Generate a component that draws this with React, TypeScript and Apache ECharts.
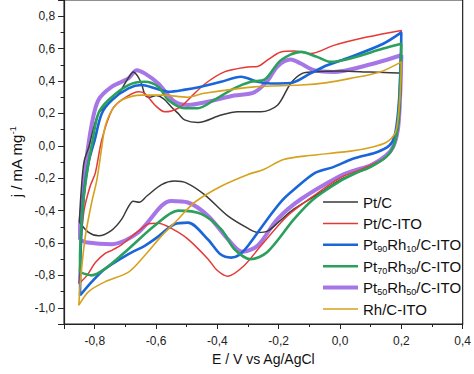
import React, { useEffect, useRef } from "react";
import * as echarts from "echarts";

const seriesNames = ["Pt/C", "Pt/C-ITO", "Pt90Rh10/C-ITO", "Pt70Rh30/C-ITO", "Pt50Rh50/C-ITO", "Rh/C-ITO"];
const legendLabels: Record<string, string> = {
  "Pt/C": "{n|Pt/C}",
  "Pt/C-ITO": "{n|Pt/C-ITO}",
  "Pt90Rh10/C-ITO": "{n|Pt}{s|90}{n|Rh}{s|10}{n|/C-ITO}",
  "Pt70Rh30/C-ITO": "{n|Pt}{s|70}{n|Rh}{s|30}{n|/C-ITO}",
  "Pt50Rh50/C-ITO": "{n|Pt}{s|50}{n|Rh}{s|50}{n|/C-ITO}",
  "Rh/C-ITO": "{n|Rh/C-ITO}",
};

const ptC: number[][] = [
  [-0.85, -0.47], [-0.845, -0.3], [-0.835, -0.1], [-0.818, 0.0], [-0.805, 0.1], [-0.788, 0.2],
  [-0.767, 0.24], [-0.723, 0.32], [-0.69, 0.42], [-0.674, 0.456], [-0.66, 0.43], [-0.647, 0.38], [-0.635, 0.31],
  [-0.62, 0.3], [-0.6, 0.31], [-0.575, 0.29], [-0.55, 0.24], [-0.528, 0.2], [-0.507, 0.16], [-0.463, 0.144],
  [-0.388, 0.19], [-0.334, 0.21], [-0.258, 0.21], [-0.204, 0.25], [-0.161, 0.385], [-0.123, 0.447],
  [-0.086, 0.456], [0.0, 0.462], [0.1, 0.455], [0.19, 0.45], [0.2, 0.45],
  [0.197, 0.3], [0.19, 0.12], [0.175, 0.0], [0.15, -0.07], [0.1, -0.13], [0.05, -0.17], [0.0, -0.21],
  [-0.063, -0.288], [-0.15, -0.39], [-0.2, -0.47], [-0.235, -0.525], [-0.268, -0.535], [-0.3, -0.51],
  [-0.366, -0.433], [-0.443, -0.3], [-0.5, -0.23], [-0.54, -0.218], [-0.582, -0.24], [-0.63, -0.31],
  [-0.655, -0.348], [-0.675, -0.342], [-0.69, -0.375], [-0.712, -0.453], [-0.744, -0.52], [-0.787, -0.556],
  [-0.82, -0.535], [-0.85, -0.47],
];

const ptCIto: number[][] = [
  [-0.852, -0.852], [-0.845, -0.6], [-0.835, -0.4], [-0.815, -0.25], [-0.798, -0.167], [-0.777, 0.037],
  [-0.744, 0.22], [-0.712, 0.283], [-0.658, 0.334], [-0.637, 0.324], [-0.604, 0.252], [-0.572, 0.21],
  [-0.55, 0.215], [-0.52, 0.24], [-0.496, 0.283], [-0.442, 0.38], [-0.377, 0.456], [-0.301, 0.487],
  [-0.269, 0.49], [-0.236, 0.53], [-0.193, 0.579], [-0.15, 0.585], [-0.096, 0.569], [-0.02, 0.62],
  [0.088, 0.671], [0.2, 0.712],
  [0.197, 0.4], [0.19, 0.15], [0.175, 0.0], [0.15, -0.07], [0.1, -0.12], [0.05, -0.16], [0.0, -0.198],
  [-0.087, -0.31], [-0.172, -0.433], [-0.258, -0.617], [-0.313, -0.74], [-0.366, -0.805], [-0.4, -0.77],
  [-0.43, -0.7], [-0.496, -0.576], [-0.55, -0.51], [-0.593, -0.478], [-0.62, -0.48], [-0.66, -0.53],
  [-0.712, -0.61], [-0.744, -0.645], [-0.767, -0.665], [-0.798, -0.72], [-0.825, -0.8], [-0.852, -0.852],
];

const pt90Rh10: number[][] = [
  [-0.848, -0.924], [-0.845, -0.6], [-0.836, -0.3], [-0.82, -0.1], [-0.8, 0.037], [-0.777, 0.2],
  [-0.744, 0.283], [-0.69, 0.355], [-0.647, 0.375], [-0.604, 0.355], [-0.56, 0.334], [-0.51, 0.345],
  [-0.453, 0.365], [-0.388, 0.395], [-0.323, 0.426], [-0.269, 0.395], [-0.226, 0.385], [-0.161, 0.388],
  [-0.096, 0.447], [-0.042, 0.497], [0.034, 0.548], [0.141, 0.63], [0.2, 0.7],
  [0.197, 0.45], [0.19, 0.22], [0.178, 0.06], [0.16, 0.0], [0.12, -0.04], [0.07, -0.065], [0.034, -0.086],
  [-0.02, -0.13], [-0.08, -0.166], [-0.15, -0.27], [-0.19, -0.34], [-0.237, -0.453], [-0.3, -0.617],
  [-0.33, -0.675], [-0.355, -0.69], [-0.39, -0.67], [-0.43, -0.58], [-0.496, -0.474], [-0.54, -0.484],
  [-0.6, -0.57], [-0.637, -0.617], [-0.69, -0.668], [-0.767, -0.76], [-0.81, -0.84], [-0.848, -0.924],
];

const pt70Rh30: number[][] = [
  [-0.848, -0.78], [-0.848, -0.69], [-0.84, -0.4], [-0.828, -0.2], [-0.81, 0.0], [-0.788, 0.2],
  [-0.755, 0.283], [-0.69, 0.375], [-0.637, 0.395], [-0.593, 0.365], [-0.56, 0.283], [-0.507, 0.232],
  [-0.464, 0.232], [-0.41, 0.283], [-0.345, 0.355], [-0.291, 0.395], [-0.245, 0.41], [-0.193, 0.528],
  [-0.128, 0.58], [-0.075, 0.549], [-0.031, 0.518], [0.034, 0.539], [0.141, 0.6], [0.2, 0.63],
  [0.197, 0.4], [0.19, 0.15], [0.175, 0.0], [0.15, -0.07], [0.1, -0.13], [0.05, -0.17], [0.0, -0.218],
  [-0.087, -0.33], [-0.15, -0.453], [-0.237, -0.656], [-0.291, -0.7], [-0.345, -0.637], [-0.388, -0.515],
  [-0.453, -0.42], [-0.528, -0.4], [-0.605, -0.494], [-0.69, -0.637], [-0.767, -0.76], [-0.81, -0.8],
  [-0.848, -0.78],
];

const pt50Rh50: number[][] = [
  [-0.848, -0.58], [-0.848, -0.5], [-0.84, -0.35], [-0.828, -0.1], [-0.809, 0.14], [-0.788, 0.283],
  [-0.744, 0.365], [-0.69, 0.416], [-0.663, 0.467], [-0.637, 0.447], [-0.593, 0.385], [-0.539, 0.272],
  [-0.496, 0.252], [-0.431, 0.272], [-0.345, 0.31], [-0.28, 0.33], [-0.237, 0.4], [-0.204, 0.49],
  [-0.161, 0.532], [-0.128, 0.508], [-0.085, 0.467], [-0.02, 0.456], [0.088, 0.497], [0.2, 0.559],
  [0.197, 0.35], [0.19, 0.12], [0.175, 0.0], [0.15, -0.06], [0.1, -0.12], [0.05, -0.15], [0.0, -0.186],
  [-0.128, -0.33], [-0.204, -0.453], [-0.269, -0.617], [-0.318, -0.654], [-0.366, -0.576], [-0.43, -0.433],
  [-0.496, -0.35], [-0.55, -0.34], [-0.582, -0.37], [-0.658, -0.535], [-0.744, -0.607], [-0.83, -0.595],
  [-0.848, -0.58],
];

const rhCIto: number[][] = [
  [-0.852, -0.985], [-0.845, -0.8], [-0.83, -0.55], [-0.81, -0.35], [-0.793, -0.21], [-0.778, -0.02],
  [-0.766, 0.119], [-0.744, 0.22], [-0.712, 0.283], [-0.647, 0.313], [-0.582, 0.313], [-0.496, 0.3],
  [-0.443, 0.324], [-0.28, 0.364], [-0.128, 0.375], [-0.042, 0.39], [0.034, 0.416], [0.131, 0.456],
  [0.2, 0.518],
  [0.197, 0.35], [0.19, 0.18], [0.18, 0.08], [0.15, 0.02], [0.1, -0.01], [0.034, -0.033], [-0.1, -0.06],
  [-0.184, -0.085], [-0.249, -0.146], [-0.3, -0.177], [-0.388, -0.25], [-0.475, -0.35], [-0.528, -0.453],
  [-0.582, -0.556], [-0.637, -0.677], [-0.69, -0.78], [-0.767, -0.84], [-0.82, -0.9], [-0.852, -0.985],
];

const seriesData = [ptC, ptCIto, pt90Rh10, pt70Rh30, pt50Rh50, rhCIto];
const colors = ["#3a3a3a", "#e53935", "#1a66d9", "#2ba05c", "#a676e6", "#d6a21e"];
const widths = [1.5, 1.5, 2.6, 2.6, 4, 1.6];

const fmt = (v: number) => v.toFixed(1).replace(".", ",");
const FONT = "Liberation Sans";

// Legend line icon: a horizontal bar of the given thickness inside a 35x16 box
const lineIcon = (t: number) => {
  const y0 = 8 - t / 2;
  const y1 = 8 + t / 2;
  return `path://M0,0h0.01v0.01h-0.01Z M0,${y0}H35V${y1}H0Z M34.99,15.99h0.01v0.01h-0.01Z`;
};

export default function App() {
  const ref = useRef<HTMLDivElement>(null);
  useEffect(() => {
    if (!ref.current) return;
    const chart = echarts.init(ref.current, null, { renderer: "svg" });
    chart.setOption({
      animation: false,
      backgroundColor: "#ffffff",
      textStyle: { fontFamily: FONT },
      grid: { left: 62, right: 9, top: 0, bottom: 50, show: true, borderColor: "#222", borderWidth: 1.2 },
      legend: {
        orient: "vertical",
        left: 318,
        top: 188,
        itemWidth: 35,
        itemHeight: 16,
        itemGap: 3.4,
        data: seriesNames.map((name, i) => ({ name, icon: lineIcon(widths[i]) })),
        formatter: (name: string) => legendLabels[name] || name,
        textStyle: {
          fontFamily: FONT,
          fontSize: 15,
          color: "#111",
          lineHeight: 18,
          rich: {
            n: { fontFamily: FONT, fontSize: 15, color: "#111", lineHeight: 18 },
            s: { fontFamily: FONT, fontSize: 9, color: "#111", lineHeight: 4, verticalAlign: "bottom" },
          },
        },
      },
      xAxis: {
        type: "value",
        min: -0.9,
        max: 0.4,
        splitNumber: 6,
        name: "E / V vs Ag/AgCl",
        nameLocation: "middle",
        nameGap: 22,
        nameTextStyle: { fontFamily: FONT, fontSize: 14, color: "#111" },
        axisLine: { onZero: false, lineStyle: { color: "#222", width: 1.2 } },
        axisTick: { show: true, length: 5, lineStyle: { color: "#222" } },
        minorTick: { show: true, splitNumber: 2, length: 3, lineStyle: { color: "#222" } },
        splitLine: { show: false },
        axisLabel: {
          fontFamily: FONT,
          fontSize: 12,
          color: "#222",
          margin: 11,
          showMinLabel: false,
          showMaxLabel: true,
          formatter: fmt,
        },
      },
      yAxis: {
        type: "value",
        min: -1.1,
        max: 0.9,
        splitNumber: 10,
        name: "{n|j / mA mg}{p|-1}",
        nameLocation: "middle",
        nameGap: 37,
        nameRotate: 90,
        nameTextStyle: {
          fontFamily: FONT,
          fontSize: 15,
          color: "#111",
          rich: {
            n: { fontFamily: FONT, fontSize: 15, color: "#111", lineHeight: 16 },
            p: { fontFamily: FONT, fontSize: 9, color: "#111", lineHeight: 8, verticalAlign: "top" },
          },
        },
        axisLine: { show: true, onZero: false, lineStyle: { color: "#222", width: 1.2 } },
        axisTick: { show: true, length: 6, lineStyle: { color: "#222" } },
        minorTick: { show: true, splitNumber: 2, length: 3.5, lineStyle: { color: "#222" } },
        splitLine: { show: false },
        axisLabel: {
          fontFamily: FONT,
          fontSize: 12,
          color: "#222",
          margin: 9,
          showMinLabel: false,
          showMaxLabel: false,
          formatter: fmt,
        },
      },
      series: seriesNames.map((name, i) => ({
        name,
        type: "line",
        data: seriesData[i],
        smooth: 0.3,
        symbol: "none",
        color: colors[i],
        itemStyle: { color: colors[i] },
        lineStyle: { color: colors[i], width: widths[i] },
        z: i === 4 ? 1 : 2,
      })),
    });
    return () => chart.dispose();
  }, []);
  return <div ref={ref} style={{ position: "fixed", left: 0, top: 0, width: 474, height: 374 }} />;
}
